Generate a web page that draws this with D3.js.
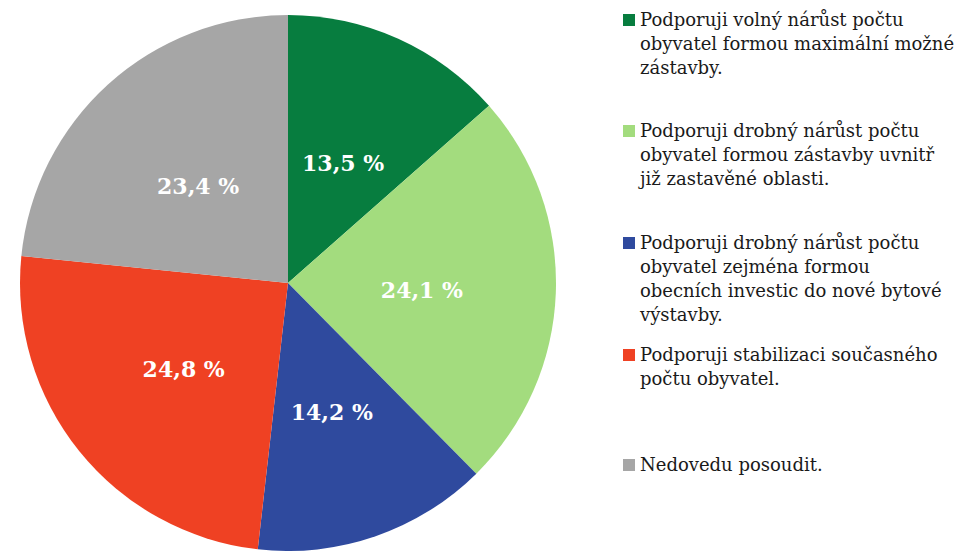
<!DOCTYPE html>
<html>
<head>
<meta charset="utf-8">
<script src="https://cdn.jsdelivr.net/npm/d3@7"></script>
<style>
  body { margin: 0; background: #fff; }
</style>
</head>
<body>
<script>
//=SVG AREA=//
const width = 960;
const height = 551;

//==DATA==//
const categories = [
  "Podporuji volný nárůst počtu obyvatel formou maximální možné zástavby.",
  "Podporuji drobný nárůst počtu obyvatel formou zástavby uvnitř již zastavěné oblasti.",
  "Podporuji drobný nárůst počtu obyvatel zejména formou obecních investic do nové bytové výstavby.",
  "Podporuji stabilizaci současného počtu obyvatel.",
  "Nedovedu posoudit."
];
// wrapped legend lines, same order as categories
const legendLines = [
  ["Podporuji volný nárůst počtu", "obyvatel formou maximální možné", "zástavby."],
  ["Podporuji drobný nárůst počtu", "obyvatel formou zástavby uvnitř", "již zastavěné oblasti."],
  ["Podporuji drobný nárůst počtu", "obyvatel zejména formou", "obecních investic do nové bytové", "výstavby."],
  ["Podporuji stabilizaci současného", "počtu obyvatel."],
  ["Nedovedu posoudit."]
];
const values = [13.5, 24.1, 14.2, 24.8, 23.4];
const colors = ["#077d3f", "#a3dc7e", "#2f4a9e", "#ef4123", "#a6a6a6"];

const svg = d3.select("body")
  .append("svg")
  .attr("width", width)
  .attr("height", height);

//==PIE==//
const cx = 288, cy = 283, radius = 268;

const pie = d3.pie().sort(null).value(d => d)(values);
const arc = d3.arc().innerRadius(0).outerRadius(radius);
const labelArc = d3.arc().innerRadius(radius * 0.5).outerRadius(radius * 0.5);

const g = svg.append("g").attr("transform", `translate(${cx},${cy})`);

g.selectAll("path")
  .data(pie)
  .enter()
  .append("path")
  .attr("d", arc)
  .attr("fill", (d, i) => colors[i]);

//percentage labels
g.selectAll("text")
  .data(pie)
  .enter()
  .append("text")
  .attr("transform", d => `translate(${labelArc.centroid(d)})`)
  .attr("text-anchor", "middle")
  .attr("dy", "0.45em")
  .attr("fill", "#fff")
  .attr("font-family", "DejaVu Serif")
  .attr("font-weight", "bold")
  .attr("font-size", 22)
  .text(d => d3.format(".1f")(d.data).replace(".", ",") + " %");

//==LEGEND==//
const legendY = [20, 131, 243, 355, 465];
const legend = svg.append("g")
  .attr("font-family", "DejaVu Serif")
  .attr("font-size", 18)
  .attr("fill", "#1a1a1a");

legendLines.forEach((lines, i) => {
  const item = legend.append("g").attr("transform", `translate(623,${legendY[i]})`);
  item.append("rect")
    .attr("x", 0).attr("y", -6)
    .attr("width", 12).attr("height", 12)
    .attr("fill", colors[i]);
  item.append("text")
    .selectAll("tspan")
    .data(lines)
    .enter()
    .append("tspan")
    .attr("x", 17)
    .attr("y", (d, j) => j * 24)
    .attr("dy", "0.35em")
    .text(d => d);
});
</script>
</body>
</html>
